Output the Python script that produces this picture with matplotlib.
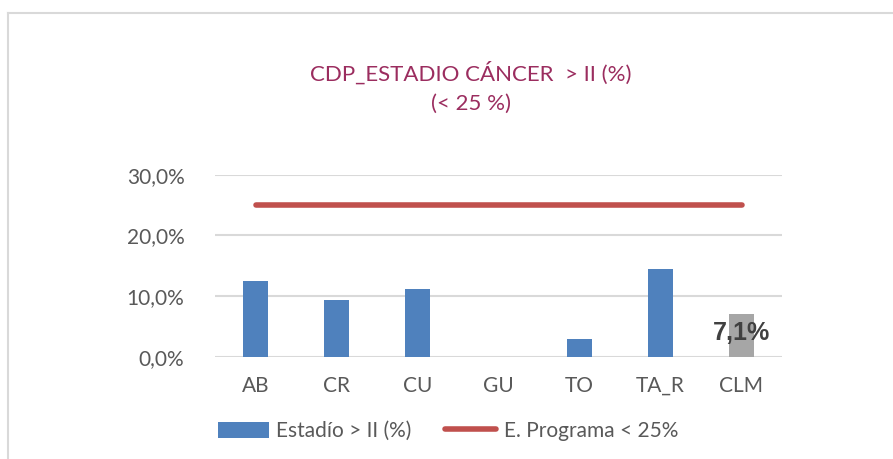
import matplotlib
matplotlib.use("Agg")
import matplotlib.pyplot as plt
from matplotlib.lines import Line2D
from matplotlib.ticker import FuncFormatter

categories = ["AB", "CR", "CU", "GU", "TO", "TA_R", "CLM"]
stage_values = [12.5, 9.3, 11.1, 0.0, 2.9, 14.4, 7.1]
target_values = [25, 25, 25, 25, 25, 25, 25]
bar_colors = ["#4F81BD"] * 6 + ["#A6A6A6"]
yticks = [0, 10, 20, 30]

plt.rcParams['font.family'] = ['Lato', 'DejaVu Sans']

fig = plt.figure(figsize=(8.93, 4.59), dpi=100)
W, H = 893, 459
ax = fig.add_axes([215 / W, 1 - 356.7 / H, (782 - 215) / W, (356.7 - 174.7) / H])

x = list(range(len(categories)))
bars = ax.bar(x, stage_values, width=0.32, color=bar_colors, zorder=2, label="Estadío > II (%)")
line, = ax.plot(x, target_values, color="#C0504D", lw=4, solid_capstyle="round", zorder=3,
                label="E. Programa < 25%")

ax.set_xlim(-0.5, len(categories) - 0.5)
ax.set_ylim(0, 30)
ax.set_yticks(yticks)
ax.yaxis.set_major_formatter(FuncFormatter(lambda v, p: f"{v:.1f}%".replace(".", ",")))
ax.set_xticks(x)
ax.set_xticklabels(categories)
ax.grid(axis="y", color="#D9D9D9", lw=1.5, zorder=0)
for s in ax.spines.values():
    s.set_visible(False)
ax.tick_params(length=0, labelsize=15, labelcolor="#595959")
ax.tick_params(axis="y", pad=22)
ax.tick_params(axis="x", pad=14)

ax.text(x[-1], stage_values[-1] / 2 + 0.4, "7,1%", ha="center", va="center",
        fontsize=18, fontweight="bold", color="#404040", family=["Liberation Sans", "DejaVu Sans"], zorder=4)

fig.text(471 / W, 1 - 73 / H, "CDP_ESTADIO CÁNCER  > II (%)", ha="center", va="center",
         fontsize=16, color="#9B2D5F")
fig.text(471 / W, 1 - 104 / H, "(< 25 %)", ha="center", va="center",
         fontsize=16, color="#9B2D5F")

leg = fig.legend(handles=[bars, line], labels=["Estadío > II (%)", "E. Programa < 25%"],
                 loc="center", bbox_to_anchor=(448 / W, 1 - 431 / H), ncol=2, frameon=False,
                 fontsize=15, labelcolor="#595959", handlelength=2.45, handleheight=0.8,
                 columnspacing=1.6, handletextpad=0.35)

fig.add_artist(Line2D([7.5 / W, 7.5 / W], [0, 1 - 12.5 / H], transform=fig.transFigure,
                      color="#D9D9D9", lw=1.5))
fig.add_artist(Line2D([7.5 / W, 1], [1 - 12.5 / H, 1 - 12.5 / H], transform=fig.transFigure,
                      color="#D9D9D9", lw=1.5))

fig.savefig("out.png", dpi=100)
